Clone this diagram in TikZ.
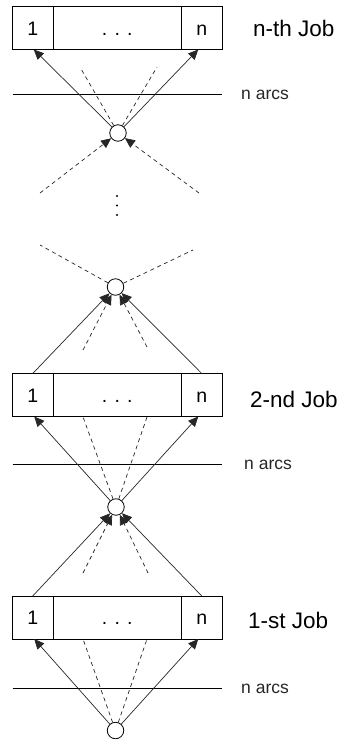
\documentclass[tikz,border=0pt]{standalone}
\usepackage{fontspec}
\setmainfont{Liberation Sans}
\usetikzlibrary{arrows.meta}
\begin{document}
\begin{tikzpicture}[x=1pt,y=-1pt,
  cell/.style={draw, line width=0.9pt, minimum height=43pt, minimum width=40.5pt,
    inner sep=0pt, outer sep=0pt, text height=14pt, text depth=0pt,
    font=\fontsize{19.5}{19.5}\selectfont},
  midcell/.style={cell, minimum width=128.5pt},
  dotnode/.style={draw, circle, line width=0.8pt, minimum size=16.5pt, inner sep=0pt, fill=white},
  arc/.style={line width=0.7pt, draw=black!85},
  dsh/.style={line width=0.7pt, draw=black!85, dash pattern=on 4pt off 3.5pt},
  tip/.style={-{Triangle[length=10pt,width=9pt]}},
  hline/.style={line width=0.8pt},
  arcslabel/.style={anchor=west, inner sep=0pt, font=\fontsize{17.5}{17.5}\selectfont, text=black!85},
  joblabel/.style={anchor=west, inner sep=0pt, font=\fontsize{22.5}{22.5}\selectfont}
]
\useasboundingbox (0,0) rectangle (338,742);

% ---------- top (n-th job) ----------
\node[cell] (t1) at (32.75,28) {1};
\node[midcell] (tm) at (117.25,28) {. . .};
\node[cell] (tn) at (201.75,28) {n};
\node[joblabel] (tl) at (253,28) {n-th Job};

\coordinate (h1a) at (12.5,94);
\coordinate (h1b) at (221.5,94);
\draw[hline] (h1a) -- (h1b);
\node[arcslabel] (al1) at (241,95) {n arcs};

\node[dotnode] (c1) at (118,133) {};
\draw[arc,tip] (c1) -- ([xshift=1pt]t1.south);
\draw[arc,tip] (c1) -- ([xshift=-3.5pt]tn.south);
\coordinate (u1l) at (80,67);
\coordinate (u1r) at (157,67);
\draw[dsh] (c1) -- (u1l);
\draw[dsh] (c1) -- (u1r);
\coordinate (l1l) at (40,193);
\coordinate (l1r) at (199,193);
\draw[dsh,tip] (l1l) -- (c1);
\draw[dsh,tip] (l1r) -- (c1);

% vertical dots
\fill (117,196) circle (1.2);
\fill (117,205.5) circle (1.2);
\fill (117,215) circle (1.2);

% ---------- second circle ----------
\node[dotnode] (c2) at (115.5,287) {};
\coordinate (u2l) at (40,245);
\coordinate (u2r) at (193,250);
\draw[dsh] (c2) -- (u2l);
\draw[dsh] (c2) -- (u2r);

% ---------- 2-nd job ----------
\node[cell] (m1) at (32.75,395) {1};
\node[midcell] (mm) at (117.25,395) {. . .};
\node[cell] (mn) at (201.75,395) {n};
\node[joblabel] (ml) at (250,399) {2-nd Job};

\draw[arc,tip] (m1.north) -- (c2);
\draw[arc,tip] (mn.north) -- (c2);
\coordinate (d2l) at (83,350);
\coordinate (d2r) at (147,347);
\draw[dsh,tip] (d2l) -- (c2);
\draw[dsh,tip] (d2r) -- (c2);

\coordinate (h2a) at (12.5,464);
\coordinate (h2b) at (221.5,464);
\draw[hline] (h2a) -- (h2b);
\node[arcslabel] (al2) at (244,465) {n arcs};

\node[dotnode] (c3) at (116,507) {};
\draw[arc,tip] (c3) -- ([xshift=1.5pt]m1.south);
\draw[arc,tip] (c3) -- ([xshift=-3.5pt]mn.south);
\coordinate (b2l) at (83,417);
\coordinate (b2r) at (147,417);
\draw[dsh] (c3) -- (b2l);
\draw[dsh] (c3) -- (b2r);

% ---------- 1-st job ----------
\node[cell] (f1) at (32.75,617.5) {1};
\node[midcell] (fm) at (117.25,617.5) {. . .};
\node[cell] (fn) at (201.75,617.5) {n};
\node[joblabel] (fl) at (248,620) {1-st Job};

\draw[arc,tip] (f1.north) -- (c3);
\draw[arc,tip] (fn.north) -- (c3);
\coordinate (d3l) at (83,573);
\coordinate (d3r) at (148,573);
\draw[dsh,tip] (d3l) -- (c3);
\draw[dsh,tip] (d3r) -- (c3);

\coordinate (h3a) at (12.5,688);
\coordinate (h3b) at (221.5,688);
\draw[hline] (h3a) -- (h3b);
\node[arcslabel] (al3) at (241,689) {n arcs};

\node[dotnode] (c4) at (115.5,730.5) {};
\draw[arc,tip] (c4) -- ([xshift=1.5pt]f1.south);
\draw[arc,tip] (c4) -- ([xshift=-3.5pt]fn.south);
\coordinate (b1l) at (83,639);
\coordinate (b1r) at (147,639);
\draw[dsh] (c4) -- (b1l);
\draw[dsh] (c4) -- (b1r);
\end{tikzpicture}
\end{document}
